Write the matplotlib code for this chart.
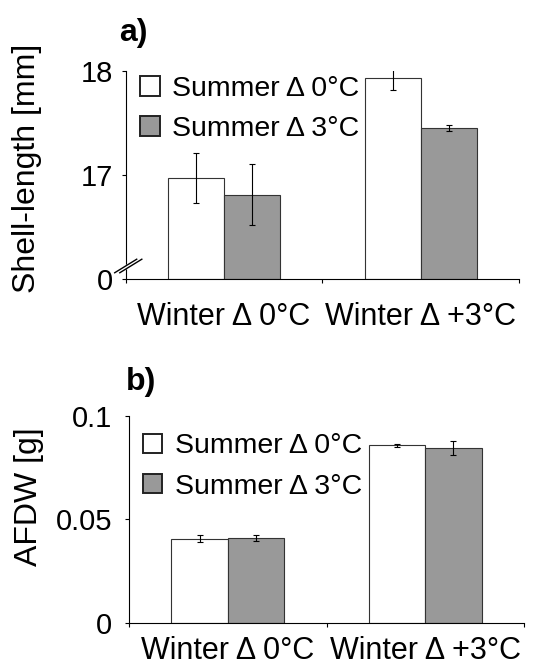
import numpy as np
import matplotlib.pyplot as plt

plt.rcParams['font.family'] = ['Liberation Sans', 'DejaVu Sans']

groups = ['Winter Δ 0°C', 'Winter Δ +3°C']
series = ['Summer Δ 0°C', 'Summer Δ 3°C']

# shell length [mm]; the axis starts at 16 mm and is drawn as a broken axis
shell_s0 = [16.97, 17.93]
shell_s3 = [16.81, 17.45]
shell_s0_err = [0.24, 0.12]
shell_s3_err = [0.29, 0.03]
shell_base = 16
shell_ticks = [16, 17, 18]
shell_ticklabels = ['0', '17', '18']

# ash free dry weight [g]
afdw_s0 = [0.0406, 0.0857]
afdw_s3 = [0.0409, 0.0843]
afdw_s0_err = [0.0018, 0.0006]
afdw_s3_err = [0.0014, 0.0034]
afdw_ticks = [0, 0.05, 0.1]
afdw_ticklabels = ['0', '0.05', '0.1']

W, H = 551, 664
fig = plt.figure(figsize=(W / 100, H / 100), dpi=100)


def px(x0, y0, x1, y1):
    # pixel box (top-left origin) -> figure fraction rect
    return [x0 / W, 1 - y1 / H, (x1 - x0) / W, (y1 - y0) / H]


def bar_panel(ax, v0, e0, v3, e3, base, ticks, ticklabels, ypad, xpad, leg_anchor):
    x = np.arange(len(groups))
    w = 0.285
    ekw = dict(ecolor='black', elinewidth=0.8, capsize=2.2, capthick=0.8)
    ax.bar(x - w / 2, np.array(v0) - base, w, bottom=base, color='white',
           edgecolor='#333333', linewidth=0.8, yerr=e0, error_kw=ekw, label=series[0])
    ax.bar(x + w / 2, np.array(v3) - base, w, bottom=base, color='#999999',
           edgecolor='#333333', linewidth=0.8, yerr=e3, error_kw=ekw, label=series[1])

    ax.set_xlim(-0.5, 1.5)
    ax.set_ylim(ticks[0], ticks[-1])
    ax.set_yticks(ticks)
    ax.set_yticklabels(ticklabels)
    ax.set_xticks([-0.5, 0.5, 1.5])
    ax.set_xticklabels([])
    ax.set_xticks(x, minor=True)
    ax.set_xticklabels(groups, minor=True)

    for s in ('top', 'right'):
        ax.spines[s].set_visible(False)
    for s in ('left', 'bottom'):
        ax.spines[s].set_linewidth(0.8)
        ax.spines[s].set_color('black')

    ax.tick_params(axis='y', direction='out', length=3, width=0.8, labelsize=21, pad=ypad)
    ax.tick_params(axis='x', which='major', direction='out', length=3, width=0.8)
    ax.tick_params(axis='x', which='minor', length=0, labelsize=22, pad=xpad)

    ax.legend(loc='upper left', bbox_to_anchor=leg_anchor, frameon=False,
              fontsize=20.5, handlelength=0.68, handleheight=0.68,
              handletextpad=0.45, labelspacing=0.5, borderpad=0, borderaxespad=0)
    for h in ax.get_legend().legend_handles:
        h.set_edgecolor('#222222')
        h.set_linewidth(1.4)


# a) shell length
ax1 = fig.add_axes(px(125.7, 70.7, 519, 279))
bar_panel(ax1, shell_s0, shell_s0_err, shell_s3, shell_s3_err, shell_base,
          shell_ticks, shell_ticklabels, ypad=6, xpad=16.5, leg_anchor=(0.037, 0.975))

# axis break marks at the foot of the y axis
bx = [-0.028, 0.028]
by = [0.03, 0.095]
gap = 0.013
ax1.fill([bx[0], bx[1], bx[1] + gap, bx[0] + gap], [by[0], by[1], by[1], by[0]],
         color='white', transform=ax1.transAxes, clip_on=False, zorder=5)
for d in (0, gap):
    ax1.plot([bx[0] + d, bx[1] + d], by, color='black', lw=1.0,
             transform=ax1.transAxes, clip_on=False, zorder=6)

fig.text(27 / W, 1 - 168 / H, 'Shell-length [mm]', rotation=90, fontsize=23,
         ha='center', va='center')
fig.text(119 / W, 1 - 41 / H, 'a)', fontsize=23, fontweight='bold',
         ha='left', va='baseline')

# b) AFDW
ax2 = fig.add_axes(px(129, 415.7, 524, 622.7))
bar_panel(ax2, afdw_s0, afdw_s0_err, afdw_s3, afdw_s3_err, 0,
          afdw_ticks, afdw_ticklabels, ypad=9, xpad=9.5, leg_anchor=(0.035, 0.915))

fig.text(29 / W, 1 - 497 / H, 'AFDW [g]', rotation=90, fontsize=23,
         ha='center', va='center')
fig.text(126 / W, 1 - 390 / H, 'b)', fontsize=23, fontweight='bold',
         ha='left', va='baseline')

fig.savefig('out.png', dpi=100, facecolor='white')
